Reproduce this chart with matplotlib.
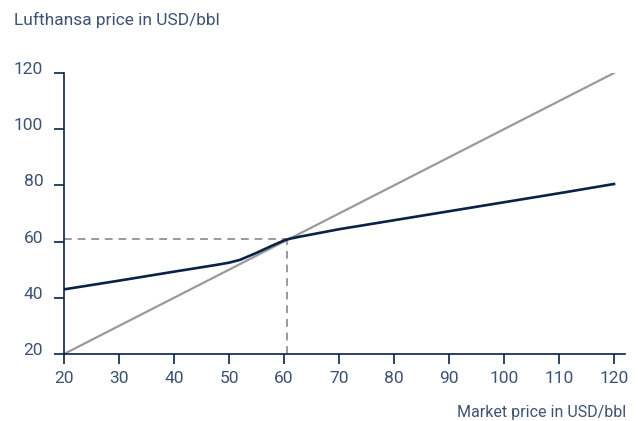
import matplotlib.pyplot as plt
import matplotlib.transforms as mtransforms

# Daten
markt = [20, 30, 40, 48, 50, 52, 55, 58, 60, 61, 63, 70, 80, 90, 100, 110, 120]
lufthansa = [43.0, 46.1, 49.3, 51.8, 52.5, 53.5, 56.0, 58.7, 60.4, 61.0, 61.8, 64.4, 67.6, 70.8, 74.0, 77.2, 80.5]
diagonale_x = [20, 120]
diagonale_y = [20, 120]
schnitt_x = 60.5
schnitt_y = 61
xticks = [20, 30, 40, 50, 60, 70, 80, 90, 100, 110, 120]
yticks = [20, 40, 60, 80, 100, 120]

navy = "#0b2148"
grau = "#9a9a9a"
textfarbe = "#3e5273"

plt.rcParams['font.family'] = ['Roboto', 'DejaVu Sans']

fig = plt.figure(figsize=(6.38, 4.21), dpi=100)
ax = fig.add_axes([64/638, 1-354/421, (625-64)/638, (354-73)/421])

ax.plot(diagonale_x, diagonale_y, color=grau, lw=1.6, zorder=2)
ax.plot(markt, lufthansa, color=navy, lw=1.9, zorder=3)
ax.plot([20, schnitt_x], [schnitt_y, schnitt_y], color=grau, lw=1.4, ls=(0, (4, 3)), zorder=1)
ax.plot([schnitt_x, schnitt_x], [20, schnitt_y], color=grau, lw=1.4, ls=(0, (4, 3)), zorder=1)

ax.set_xlim(20, 122)
ax.set_ylim(20, 120)
ax.set_xticks(xticks)
ax.set_yticks(yticks)

for s in ["top", "right"]:
    ax.spines[s].set_visible(False)
for s in ["left", "bottom"]:
    ax.spines[s].set_color(navy)
    ax.spines[s].set_linewidth(1.2)
ax.spines["left"].set_bounds(20, 120)

ax.tick_params(axis="both", colors=navy, length=7, width=1.2, labelsize=12.5, labelcolor=textfarbe)
ax.tick_params(axis="x", pad=5)
ax.tick_params(axis="y", pad=8)

# y-Beschriftungen leicht nach oben versetzen
offset = mtransforms.ScaledTranslation(0, 5/100, fig.dpi_scale_trans)
for lbl in ax.get_yticklabels():
    lbl.set_transform(lbl.get_transform() + offset)

fig.text(14/638, 1-20/421, "Lufthansa price in USD/bbl", fontsize=12.5, color=textfarbe, va="center", ha="left")
fig.text(626/638, 1-413/421, "Market price in USD/bbl", fontsize=11.5, color=textfarbe, va="center", ha="right")

fig.savefig("out.png", dpi=100)
